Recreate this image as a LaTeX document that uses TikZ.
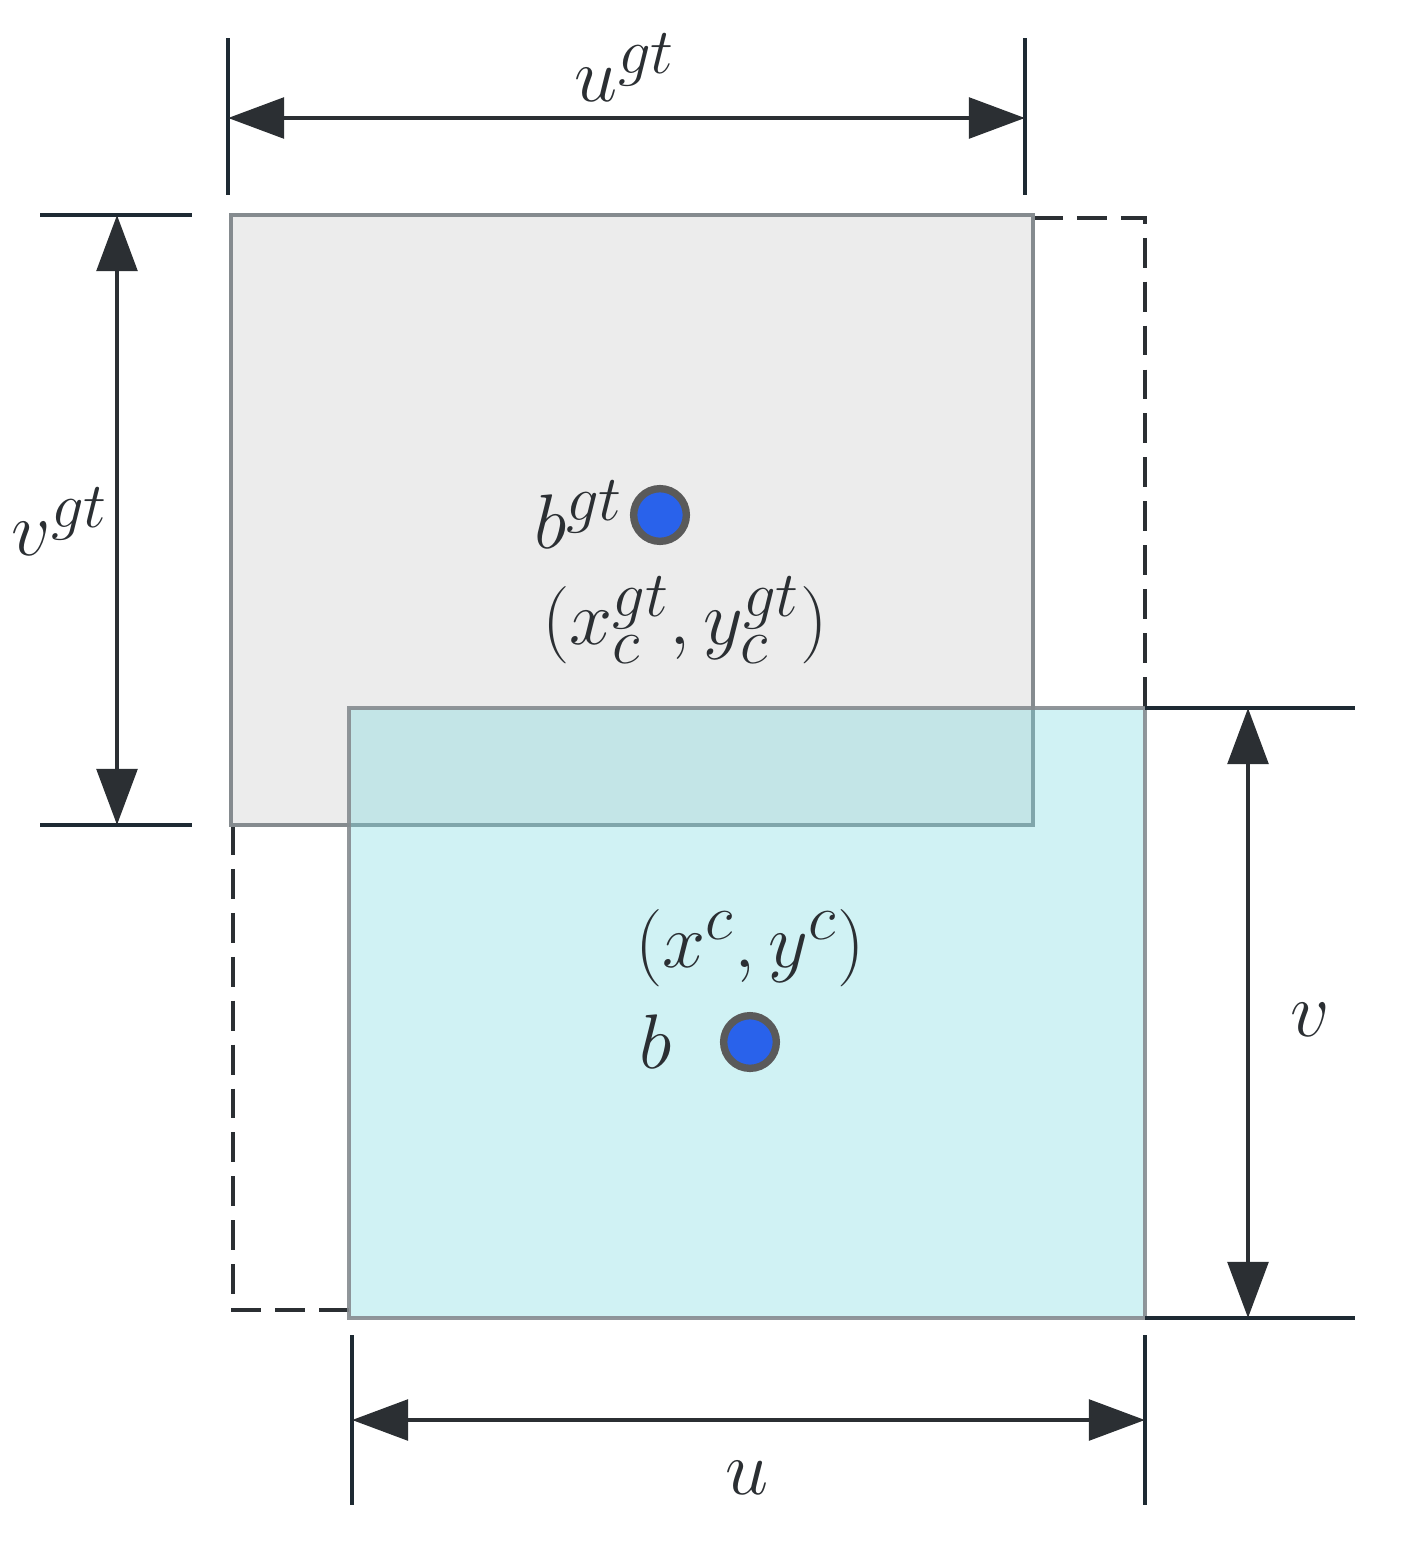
\documentclass[tikz,border=0pt]{standalone}
\usetikzlibrary{arrows.meta}
\definecolor{inkc}{HTML}{2B2F33}
\definecolor{tickc}{HTML}{1E2A33}
\definecolor{gtfill}{HTML}{ECECEC}
\definecolor{boxline}{HTML}{858B8F}
\definecolor{cyfill}{RGB}{121,218,224}
\definecolor{dotblue}{HTML}{2962EB}
\definecolor{dotring}{HTML}{5A5A5A}
\tikzset{
  tick/.style={draw=tickc, line width=2.8pt},
  dimarrow/.style={draw=inkc, line width=2.8pt, {Triangle[length=32pt,width=23pt]}-{Triangle[length=32pt,width=23pt]}},
  dashline/.style={draw=inkc, line width=2.8pt, dash pattern=on 17pt off 8pt},
  lbl/.style={text=inkc, inner sep=0pt, font=\Huge, scale=1.77},
  centerdot/.style={circle, fill=dotblue, draw=dotring, line width=4.2pt, minimum size=30pt, inner sep=0pt}
}
\begin{document}
\begin{tikzpicture}[x=0.02cm, y=-0.02cm]
\useasboundingbox (0,0) rectangle (1408,1552);
% dashed outlines
\coordinate (d1) at (1033,218);
\coordinate (d2) at (1145,218);
\coordinate (d3) at (1145,708);
\coordinate (d4) at (233,825);
\coordinate (d5) at (233,1310);
\coordinate (d6) at (349,1310);
\draw[dashline] (d1) -- (d2) -- (d3);
\draw[dashline] (d4) -- (d5) -- (d6);
% ground-truth box
\draw[fill=gtfill, draw=boxline, line width=2.3pt] (231,215) rectangle (1033,825);
% predicted box
\draw[fill=cyfill, fill opacity=0.35, draw=boxline, draw opacity=0.9, line width=2.3pt] (349,708) rectangle (1145,1318);
% top dimension
\coordinate (t1a) at (228,38); \coordinate (t1b) at (228,195);
\coordinate (t2a) at (1025,38); \coordinate (t2b) at (1025,195);
\coordinate (ta) at (228,118); \coordinate (tb) at (1025,118);
\draw[tick] (t1a) -- (t1b);
\draw[tick] (t2a) -- (t2b);
\draw[dimarrow] (ta) -- (tb);
\node[lbl] (ugt) at (625,68) {$u^{gt}$};
% left dimension
\coordinate (l1a) at (40,215); \coordinate (l1b) at (192,215);
\coordinate (l2a) at (40,825); \coordinate (l2b) at (192,825);
\coordinate (la) at (117,215); \coordinate (lb) at (117,825);
\draw[tick] (l1a) -- (l1b);
\draw[tick] (l2a) -- (l2b);
\draw[dimarrow] (la) -- (lb);
\node[lbl] (vgt) at (60,522) {$v^{gt}$};
% right dimension
\coordinate (r1a) at (1145,708); \coordinate (r1b) at (1355,708);
\coordinate (r2a) at (1145,1318); \coordinate (r2b) at (1355,1318);
\coordinate (ra) at (1248,708); \coordinate (rb) at (1248,1318);
\draw[tick] (r1a) -- (r1b);
\draw[tick] (r2a) -- (r2b);
\draw[dimarrow] (ra) -- (rb);
\node[lbl] (vlab) at (1310,1020) {$v$};
% bottom dimension
\coordinate (b1a) at (352,1335); \coordinate (b1b) at (352,1505);
\coordinate (b2a) at (1145,1335); \coordinate (b2b) at (1145,1505);
\coordinate (ba) at (352,1420); \coordinate (bb) at (1145,1420);
\draw[tick] (b1a) -- (b1b);
\draw[tick] (b2a) -- (b2b);
\draw[dimarrow] (ba) -- (bb);
\node[lbl] (ulab) at (747,1478) {$u$};
% centers
\node[centerdot] (cgt) at (660,515) {};
\node[lbl, anchor=east] (bgt) at (624,515) {$b^{gt}$};
\node[lbl] (xygt) at (685,620) {$(x_c^{gt},y_c^{gt})$};
\node[centerdot] (cp) at (750,1042) {};
\node[lbl] (blab) at (656,1042) {$b$};
\node[lbl] (xyc) at (750,948) {$(x^c,y^c)$};
\end{tikzpicture}
\end{document}
